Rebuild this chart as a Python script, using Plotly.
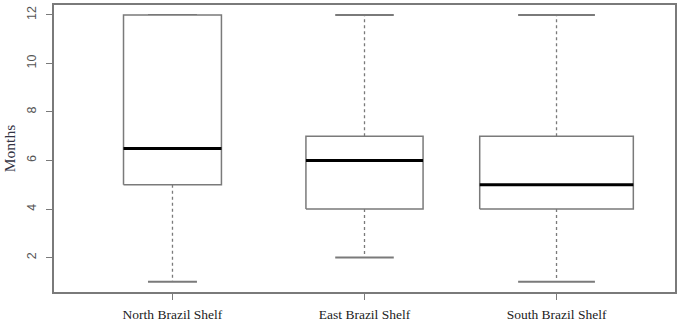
import plotly.graph_objects as go

categories = ["North Brazil Shelf", "East Brazil Shelf", "South Brazil Shelf"]
minimum = [1, 2, 1]
q1 = [5, 4, 4]
median = [6.5, 6, 5]
q3 = [12, 7, 7]
maximum = [12, 12, 12]
y_ticks = [2, 4, 6, 8, 10, 12]

box_widths = [0.51, 0.61, 0.80]   # varwidth-style widths (axis units)
LINE = "#7a7a7a"

fig = go.Figure()
for i, cat in enumerate(categories):
    c = i + 1
    w = box_widths[i]
    # whiskers (dotted)
    fig.add_trace(go.Scatter(x=[c, c], y=[q3[i], maximum[i]], mode="lines",
                             line=dict(color=LINE, width=1.3, dash="dot"),
                             showlegend=False, hoverinfo="skip"))
    fig.add_trace(go.Scatter(x=[c, c], y=[q1[i], minimum[i]], mode="lines",
                             line=dict(color=LINE, width=1.3, dash="dot"),
                             showlegend=False, hoverinfo="skip"))
    # staples
    for v in (minimum[i], maximum[i]):
        fig.add_trace(go.Scatter(x=[c - w / 4, c + w / 4], y=[v, v], mode="lines",
                                 line=dict(color=LINE, width=2),
                                 showlegend=False, hoverinfo="skip"))
    # box
    fig.add_trace(go.Scatter(x=[c - w / 2, c + w / 2, c + w / 2, c - w / 2, c - w / 2],
                             y=[q1[i], q1[i], q3[i], q3[i], q1[i]], mode="lines",
                             fill="toself", fillcolor="white",
                             line=dict(color=LINE, width=1.5),
                             showlegend=False, name=cat))
    # median
    fig.add_trace(go.Scatter(x=[c - w / 2, c + w / 2], y=[median[i], median[i]], mode="lines",
                             line=dict(color="black", width=3),
                             showlegend=False, hoverinfo="skip"))

fig.update_layout(
    width=680, height=325,
    margin=dict(l=54, r=3, t=3, b=31),
    paper_bgcolor="white", plot_bgcolor="white",
    font=dict(family="Liberation Serif", size=13, color="#222"),
)
fig.update_xaxes(
    range=[0.383, 3.617], tickvals=[1, 2, 3], ticktext=categories,
    showgrid=False, zeroline=False,
    showline=True, mirror=True, linecolor=LINE, linewidth=1.5,
    ticks="outside", ticklen=6, tickcolor=LINE, tickwidth=1.3,
    ticklabelstandoff=3,
    tickfont=dict(family="Liberation Serif", size=13.5, color="#222"),
)
fig.update_yaxes(
    range=[0.58, 12.41], tickvals=y_ticks, ticktext=[str(t) for t in y_ticks],
    showgrid=False, zeroline=False,
    showline=True, mirror=True, linecolor=LINE, linewidth=1.5,
    ticks="outside", ticklen=6, tickcolor=LINE, tickwidth=1.3,
    tickangle=-90, ticklabelstandoff=5,
    tickfont=dict(family="Liberation Sans", size=12.5, color="#555"),
    title=dict(text="Months", standoff=6,
               font=dict(family="Liberation Serif", size=15.5, color="#333344")),
)

fig.write_html("out.html", config={"displayModeBar": False},
               post_script="document.body.style.margin='0';")
